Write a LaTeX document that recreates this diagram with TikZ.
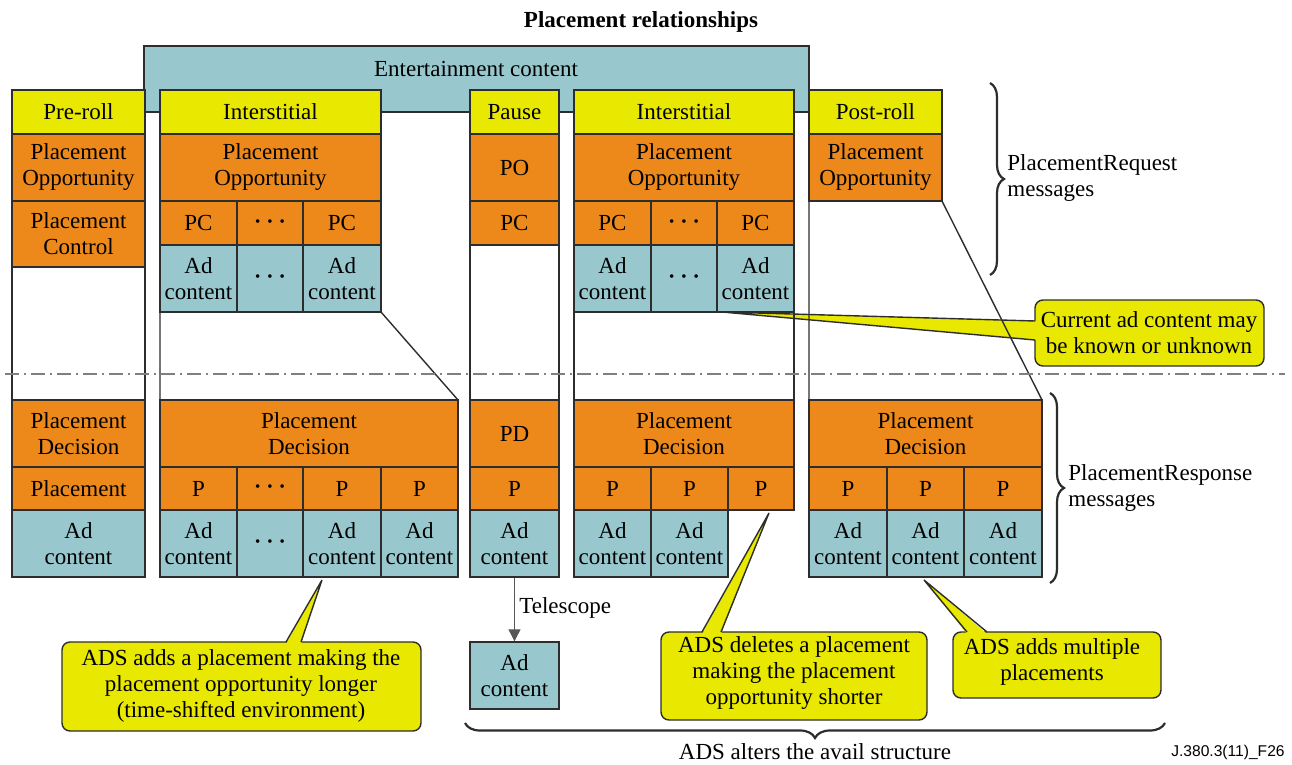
\documentclass[tikz,border=0pt]{standalone}
\usepackage{fontspec}
\setmainfont{Liberation Serif}
\newfontfamily\arialfont{Liberation Sans}
\usetikzlibrary{decorations.pathreplacing,arrows.meta}
\definecolor{cyel}{RGB}{232,232,0}
\definecolor{corg}{RGB}{237,137,26}
\definecolor{cteal}{RGB}{152,200,206}
\definecolor{cline}{RGB}{45,45,45}
\newcommand\mainsz{\fontsize{11.5}{13}\selectfont}
\newcommand\dotsrow{{\fontsize{7.5}{7.5}\selectfont •\hspace{3.5pt}•\hspace{3.5pt}•}}
\newcommand\cellbox[7]{%
 \pgfmathsetmacro\cellW{(#4-#2)*0.5}%
 \pgfmathsetmacro\cellH{(#5-#3)*0.5}%
 \node[#6, minimum width=\cellW pt, minimum height=\cellH pt] (#1) at ({(#2+#4)/2},{(#3+#5)/2}) {#7};}
\tikzset{
 cellbase/.style={draw=cline, line width=0.7pt, inner sep=0pt, align=center, font=\mainsz},
 ycell/.style={cellbase, fill=cyel},
 ocell/.style={cellbase, fill=corg},
 tcell/.style={cellbase, fill=cteal},
 colline/.style={draw=cline, line width=0.7pt},
 callbox/.style={draw=cline, fill=cyel, line width=0.7pt, rounded corners=4pt},
 callline/.style={draw=cline, line width=0.7pt, line join=miter},
 calltext/.style={align=center, font=\mainsz, inner sep=0pt},
 plain/.style={font=\mainsz, inner sep=0pt},
 bracestyle/.style={decorate, line width=1.1pt, draw=cline},
}
\begin{document}
\begin{tikzpicture}[x=0.5pt,y=-0.5pt]
\useasboundingbox (0,0) rectangle (1292,765);

% title
\node[plain, font=\mainsz\bfseries] (title) at (641,22) {Placement relationships};

% entertainment content
\cellbox{ent}{144}{46}{809}{112}{tcell}{}
\node[plain] (enttxt) at (476,69) {Entertainment content};

% callouts (beneath column outlines)
\draw[callbox] (1035,300) rectangle (1264,366);
\fill[cyel] (722,312) -- (1037,321) -- (1037,340) -- cycle;
\draw[callline] (1035,321) -- (722,312) -- (1035,340);
\node[calltext] (cA) at (1149,333) {Current ad content may\\be known or unknown};

\draw[callbox] (62,642) rectangle (421,731);
\fill[cyel] (322,580) -- (286,644) -- (301,644) -- cycle;
\draw[callline] (286,642) -- (322,580) -- (301,642);
\node[calltext] (cB) at (241,686) {ADS adds a placement making the\\placement opportunity longer\\(time-shifted environment)};

\draw[callbox] (661,632) rectangle (927,720);
\fill[cyel] (769,513) -- (702,634) -- (721,634) -- cycle;
\draw[callline] (702,632) -- (769,513) -- (721,632);
\node[calltext] (cC) at (794,673) {ADS deletes a placement\\making the placement\\opportunity shorter};

\draw[callbox] (953,632) rectangle (1161,698);
\fill[cyel] (924,580) -- (967,634) -- (987,634) -- cycle;
\draw[callline] (967,632) -- (924,580) -- (987,632);
\node[calltext] (cD) at (1052,662) {ADS adds multiple\\placements};

% column outlines
\draw[colline] (12,90) rectangle (145,577);
\draw[colline] (160,90) -- (381,90) -- (381,312) -- (458,400) -- (458,577) -- (160,577) -- cycle;
\draw[colline] (470,90) rectangle (559,577);
\draw[colline] (574,90) -- (794,90) -- (794,510) -- (728,510) -- (728,577) -- (574,577) -- cycle;
\draw[colline] (809,90) -- (942,90) -- (942,201) -- (1042,400) -- (1042,577) -- (809,577) -- cycle;

% Pre-roll
\cellbox{pre_y}{12}{90}{145}{134}{ycell}{Pre-roll}
\cellbox{pre_po}{12}{134}{145}{201}{ocell}{Placement\\Opportunity}
\cellbox{pre_pc}{12}{201}{145}{267}{ocell}{Placement\\Control}
\cellbox{pre_pd}{12}{400}{145}{467}{ocell}{Placement\\Decision}
\cellbox{pre_p}{12}{467}{145}{510}{ocell}{Placement}
\cellbox{pre_ad}{12}{510}{145}{577}{tcell}{Ad\\content}

% Interstitial 1
\cellbox{i1_y}{160}{90}{381}{134}{ycell}{Interstitial}
\cellbox{i1_po}{160}{134}{381}{201}{ocell}{Placement\\Opportunity}
\cellbox{i1_pc1}{160}{201}{237}{245}{ocell}{PC}
\cellbox{i1_pc2}{237}{201}{303}{245}{ocell}{\dotsrow}
\cellbox{i1_pc3}{303}{201}{381}{245}{ocell}{PC}
\cellbox{i1_ad1}{160}{245}{237}{312}{tcell}{Ad\\content}
\cellbox{i1_ad2}{237}{245}{303}{312}{tcell}{\dotsrow}
\cellbox{i1_ad3}{303}{245}{381}{312}{tcell}{Ad\\content}
\cellbox{i1_pd}{160}{400}{458}{467}{ocell}{Placement\\Decision}
\cellbox{i1_p1}{160}{467}{237}{510}{ocell}{P}
\cellbox{i1_p2}{237}{467}{303}{510}{ocell}{\dotsrow}
\cellbox{i1_p3}{303}{467}{381}{510}{ocell}{P}
\cellbox{i1_p4}{381}{467}{458}{510}{ocell}{P}
\cellbox{i1_a1}{160}{510}{237}{577}{tcell}{Ad\\content}
\cellbox{i1_a2}{237}{510}{303}{577}{tcell}{\dotsrow}
\cellbox{i1_a3}{303}{510}{381}{577}{tcell}{Ad\\content}
\cellbox{i1_a4}{381}{510}{458}{577}{tcell}{Ad\\content}

% Pause
\cellbox{pa_y}{470}{90}{559}{134}{ycell}{Pause}
\cellbox{pa_po}{470}{134}{559}{201}{ocell}{PO}
\cellbox{pa_pc}{470}{201}{559}{245}{ocell}{PC}
\cellbox{pa_pd}{470}{400}{559}{467}{ocell}{PD}
\cellbox{pa_p}{470}{467}{559}{510}{ocell}{P}
\cellbox{pa_ad}{470}{510}{559}{577}{tcell}{Ad\\content}
\cellbox{tel}{470}{642}{559}{709}{tcell}{Ad\\content}
\draw[draw=cline!80, line width=0.6pt, -{Triangle[length=6pt,width=6pt]}] (pa_ad.south) -- (tel.north);
\node[plain, anchor=west] (tellbl) at (519,608) {Telescope};

% Interstitial 2
\cellbox{i2_y}{574}{90}{794}{134}{ycell}{Interstitial}
\cellbox{i2_po}{574}{134}{794}{201}{ocell}{Placement\\Opportunity}
\cellbox{i2_pc1}{574}{201}{651}{245}{ocell}{PC}
\cellbox{i2_pc2}{651}{201}{717}{245}{ocell}{\dotsrow}
\cellbox{i2_pc3}{717}{201}{794}{245}{ocell}{PC}
\cellbox{i2_ad1}{574}{245}{651}{312}{tcell}{Ad\\content}
\cellbox{i2_ad2}{651}{245}{717}{312}{tcell}{\dotsrow}
\cellbox{i2_ad3}{717}{245}{794}{312}{tcell}{Ad\\content}
\cellbox{i2_pd}{574}{400}{794}{467}{ocell}{Placement\\Decision}
\cellbox{i2_p1}{574}{467}{651}{510}{ocell}{P}
\cellbox{i2_p2}{651}{467}{728}{510}{ocell}{P}
\cellbox{i2_p3}{728}{467}{794}{510}{ocell}{P}
\cellbox{i2_a1}{574}{510}{651}{577}{tcell}{Ad\\content}
\cellbox{i2_a2}{651}{510}{728}{577}{tcell}{Ad\\content}

% Post-roll
\cellbox{po_y}{809}{90}{942}{134}{ycell}{Post-roll}
\cellbox{po_po}{809}{134}{942}{201}{ocell}{Placement\\Opportunity}
\cellbox{po_pd}{809}{400}{1042}{467}{ocell}{Placement\\Decision}
\cellbox{po_p1}{809}{467}{887}{510}{ocell}{P}
\cellbox{po_p2}{887}{467}{964}{510}{ocell}{P}
\cellbox{po_p3}{964}{467}{1042}{510}{ocell}{P}
\cellbox{po_a1}{809}{510}{887}{577}{tcell}{Ad\\content}
\cellbox{po_a2}{887}{510}{964}{577}{tcell}{Ad\\content}
\cellbox{po_a3}{964}{510}{1042}{577}{tcell}{Ad\\content}

% separator
\coordinate (sepL) at (5,374);
\coordinate (sepR) at (1285,374);
\draw[draw=gray, line width=0.7pt, dash pattern=on 7pt off 2.5pt on 1pt off 2.5pt] (sepL) -- (sepR);

% braces
\coordinate (b1s) at (990,83);
\coordinate (b1e) at (990,275);
\draw[bracestyle, decoration={brace, amplitude=7pt}] (b1s) -- (b1e);
\node[plain, anchor=west, align=left] (reqlbl) at (1007,178) {PlacementRequest\\messages};

\coordinate (b2s) at (1050,393);
\coordinate (b2e) at (1050,583);
\draw[bracestyle, decoration={brace, amplitude=7pt}] (b2s) -- (b2e);
\node[plain, anchor=west, align=left] (resplbl) at (1068,488) {PlacementResponse\\messages};

\coordinate (b3s) at (1165,723);
\coordinate (b3e) at (465,723);
\draw[bracestyle, decoration={brace, amplitude=7.5pt}] (b3s) -- (b3e);
\node[plain] (altlbl) at (815,752) {ADS alters the avail structure};

\node[inner sep=0pt, anchor=east, font=\arialfont\fontsize{7.8}{9}\selectfont] (figid) at (1285,752) {J.380.3(11)\_F26};
\end{tikzpicture}
\end{document}
